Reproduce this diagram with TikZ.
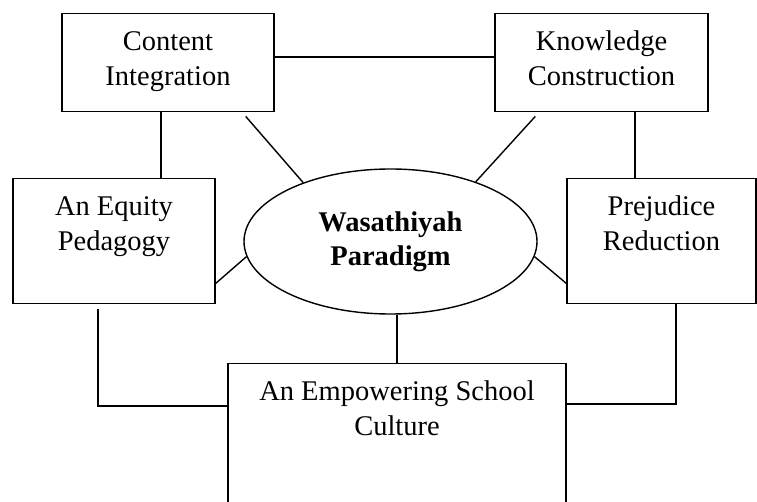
\documentclass[tikz,border=0pt]{standalone}
\usepackage{fontspec}
\setmainfont{Liberation Serif}
\usepackage{tikz}
\usetikzlibrary{calc,shapes.geometric}

\begin{document}
\begin{tikzpicture}[x=1pt, y=-1pt,
          dimbox/.style={draw, line width=1.4pt, align=center, inner xsep=4pt,
            inner ysep=17pt, text height=55pt,
            font=\fontsize{28.5}{35}\selectfont},
          core/.style={draw, ellipse, line width=1.4pt, align=center, inner sep=0pt,
            minimum width=293pt, minimum height=145pt,
            font=\fontsize{28.5}{34}\selectfont\bfseries},
          link/.style={line width=1.4pt},
        ]
        \useasboundingbox (0,0) rectangle (757,502);
        \clip (0,0) rectangle (757,502);
        % five dimensions round the paradigm
        \node[dimbox, minimum width=212pt, text depth=9pt] (content) at (168,13) [anchor=north] {Content\\Integration};
        \node[dimbox, minimum width=213pt, text depth=9pt] (knowledge) at (601.5,13) [anchor=north] {Knowledge\\Construction};
        \node[dimbox, minimum width=202pt, text depth=36pt] (equity) at (114,178) [anchor=north] {An Equity\\Pedagogy};
        \node[dimbox, minimum width=189pt, text depth=36pt] (prejudice) at (661.5,178) [anchor=north] {Prejudice\\Reduction};
        \node[dimbox, minimum width=338pt, text depth=110pt] (empower) at (397,363) [anchor=north] {An Empowering School\\Culture};
        \node[core] (wasat) at (390.5,241.5) {Wasathiyah\\Paradigm};
        % links
        \draw[link] ([yshift=5.5pt]content.east) -- ([yshift=5.5pt]knowledge.west);
        \draw[link] ([xshift=-7pt]content.south) -- ([xshift=-7pt]content.south |- equity.north);
        \draw[link] ([xshift=33.5pt]knowledge.south) -- ([xshift=33.5pt]knowledge.south |- prejudice.north);
        \draw[link] ([shift={(-29pt,-4pt)}]content.south east) -- (wasat.146);
        \draw[link] ([shift={(41pt,-4pt)}]knowledge.south west) -- (wasat.35);
        \draw[link] ([yshift=21pt]equity.south east) -- (wasat.186);
        \draw[link] ([yshift=21pt]prejudice.south west) -- (wasat.-6);
        \draw[link] (empower.north |- wasat.south) -- (empower.north);
        \draw[link] ([shift={(-16pt,-5pt)}]equity.south) |- ([yshift=-43pt]empower.north west);
        \draw[link] ([xshift=14.5pt]prejudice.south) |- ([yshift=-41pt]empower.north east);
      \end{tikzpicture}
\end{document}
